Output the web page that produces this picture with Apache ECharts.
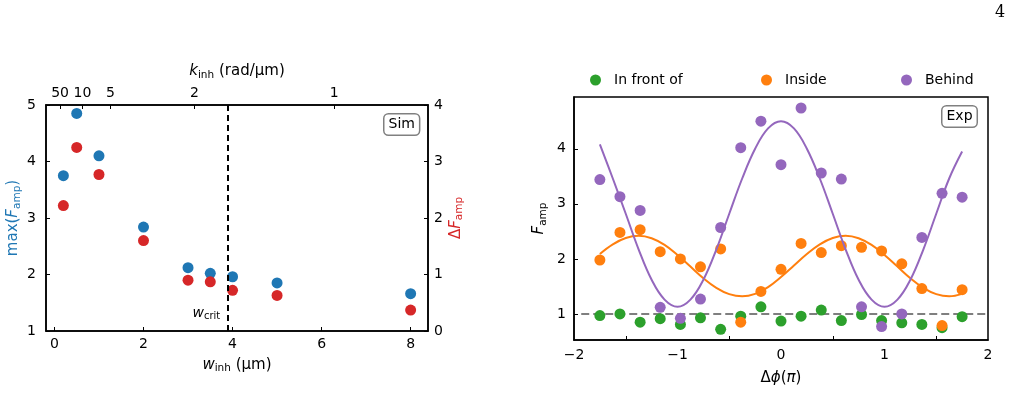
<!DOCTYPE html>
<html>
<head>
<meta charset="utf-8">
<script src="https://cdn.jsdelivr.net/npm/echarts@6/dist/echarts.min.js"></script>
<style>
  html, body { margin: 0; padding: 0; background: #fff; }
  #main { width: 1013px; height: 415px; }
</style>
</head>
<body>
<div id="main"></div>
<script>
// ---- left panel (Sim) ----
const wInh = [0.2, 0.5, 1, 2, 3, 3.5, 4, 5, 8];
const maxFamp = [3.75, 4.85, 4.10, 2.84, 2.12, 2.02, 1.96, 1.85, 1.66];
const deltaFamp = [2.22, 3.25, 2.77, 1.60, 0.90, 0.87, 0.72, 0.63, 0.37];
const wCrit = 3.9;
const kTicks = [50, 10, 5, 2, 1];

// ---- right panel (Exp) ----
const dPhi = [-1.75, -1.556, -1.361, -1.167, -0.972, -0.778, -0.583, -0.389, -0.194, 0,
              0.194, 0.389, 0.583, 0.778, 0.972, 1.167, 1.361, 1.556, 1.75];
const frontVals = [0.97, 1.0, 0.85, 0.915, 0.81, 0.93, 0.72, 0.96, 1.13, 0.87,
                   0.96, 1.07, 0.88, 0.99, 0.88, 0.84, 0.81, 0.75, 0.95];
const insideVals = [1.98, 2.48, 2.53, 2.13, 2.0, 1.855, 2.18, 0.85, 1.41, 1.81,
                    2.28, 2.115, 2.24, 2.21, 2.145, 1.91, 1.46, 0.79, 1.44];
const behindVals = [3.44, 3.13, 2.88, 1.12, 0.92, 1.27, 2.57, 4.02, 4.50, 3.71,
                    4.74, 3.56, 3.45, 1.13, 0.77, 1.0, 2.39, 3.19, 3.12];

// fitted curves
const fitX = [-1.75, -1.625, -1.5, -1.375, -1.25, -1.125, -1, -0.875, -0.75, -0.625,
              -0.5, -0.375, -0.25, -0.125, 0, 0.125, 0.25, 0.375, 0.5, 0.625,
              0.75, 0.875, 1, 1.125, 1.25, 1.375, 1.5, 1.625, 1.75];
const insideFit = [2.09, 2.265, 2.38, 2.42, 2.375, 2.253, 2.07, 1.86, 1.65, 1.475,
                   1.36, 1.32, 1.365, 1.487, 1.67, 1.88, 2.09, 2.265, 2.38, 2.42,
                   2.375, 2.253, 2.07, 1.86, 1.65, 1.475, 1.36, 1.32, 1.365];
const behindFit = [4.08, 3.46, 2.82, 2.17, 1.62, 1.26, 1.13, 1.26, 1.62, 2.17,
                   2.82, 3.46, 4.0, 4.37, 4.5, 4.37, 4.0, 3.46, 2.82, 2.17,
                   1.62, 1.26, 1.13, 1.26, 1.62, 2.17, 2.82, 3.46, 3.95];
const refLine = [[-1.93, 1], [2, 1]];

const BLUE = '#1f77b4', RED = '#d62728', GREEN = '#2ca02c', ORANGE = '#ff7f0e', PURPLE = '#9467bd';
const FONT = 'DejaVu Sans';

function pairs(xs, ys) {
    return xs.map((x, i) => [x, ys[i]]);
}

function minus(v) {
    return v < 0 ? '\u2212' + Math.abs(v) : String(v);
}

const axisLine = {show: true, onZero: false, lineStyle: {color: '#000', width: 1.5}};
const tickStyle = {show: true, inside: true, length: 4, lineStyle: {color: '#000', width: 1}};
const labelStyle = {color: '#000', fontFamily: FONT, fontSize: 14};

// rich text styles for labels with italic letters and subscripts
function richFor(color, size) {
    return {
        r: {fontFamily: FONT, fontSize: size, color: color},
        i: {fontFamily: FONT, fontSize: size, color: color, fontStyle: 'italic'},
        s: {fontFamily: FONT, fontSize: size * 0.7, color: color, padding: [size * 0.55, 0, 0, 0]}
    };
}

function legendAt(name, left) {
    return {
        data: [name], left: left, top: 68, icon: 'circle', itemWidth: 11, itemHeight: 11,
        itemGap: 0, textStyle: {fontFamily: FONT, fontSize: 14, color: '#000', padding: [0, 0, 0, 8]}
    };
}

let chart = echarts.init(document.getElementById('main'), null, {renderer: 'canvas'});

let option = {
    backgroundColor: '#fff',
    animation: false,
    grid: [
        {left: 46, top: 105, width: 382, height: 226, show: true, borderColor: '#000', borderWidth: 1.5, backgroundColor: 'transparent'},
        {left: 574, top: 97, width: 414, height: 243, show: true, borderColor: '#000', borderWidth: 1.5, backgroundColor: 'transparent'}
    ],
    legend: [
        legendAt('In front of', 585),
        legendAt('Inside', 756),
        legendAt('Behind', 896)
    ],
    xAxis: [
        {
            gridIndex: 0, type: 'value', position: 'bottom', min: -0.19, max: 8.39,
            axisLine: axisLine, splitLine: {show: false},
            axisTick: Object.assign({customValues: [0, 2, 4, 6, 8]}, tickStyle),
            axisLabel: Object.assign({customValues: [0, 2, 4, 6, 8], margin: 6}, labelStyle),
            name: '{i|w}{s|inh}{r| (μm)}', nameLocation: 'middle', nameGap: 24,
            nameTextStyle: {rich: richFor('#000', 15)}
        },
        {
            gridIndex: 0, type: 'value', position: 'top', min: -0.19, max: 8.39,
            axisLine: axisLine, splitLine: {show: false},
            axisTick: Object.assign({customValues: kTicks.map(k => 2 * Math.PI / k)}, tickStyle),
            axisLabel: Object.assign({
                customValues: kTicks.map(k => 2 * Math.PI / k), margin: 5,
                formatter: v => String(Math.round(2 * Math.PI / v))
            }, labelStyle),
            name: '{i|k}{s|inh}{r| (rad/μm)}', nameLocation: 'middle', nameGap: 15,
            nameTextStyle: {rich: richFor('#000', 15)}
        },
        {
            gridIndex: 1, type: 'value', position: 'bottom', min: -2, max: 2,
            axisLine: axisLine, splitLine: {show: false},
            axisTick: Object.assign({customValues: [-1.5, -0.5, 0.5, 1.5]}, tickStyle),
            axisLabel: Object.assign({customValues: [-2, -1, 0, 1, 2], margin: 8, formatter: minus}, labelStyle),
            name: '{r|Δ}{i|ϕ}{r|(}{i|π}{r|)}', nameLocation: 'middle', nameGap: 31,
            nameTextStyle: {rich: richFor('#000', 15)}
        }
    ],
    yAxis: [
        {
            gridIndex: 0, type: 'value', position: 'left', min: 1, max: 5, interval: 1,
            axisLine: axisLine, splitLine: {show: false},
            axisTick: tickStyle,
            axisLabel: Object.assign({margin: 10}, labelStyle),
            name: '{r|max(}{i|F}{s|amp}{r|)}', nameLocation: 'middle', nameGap: 22, nameRotate: 90,
            nameTextStyle: {rich: richFor(BLUE, 15)}
        },
        {
            gridIndex: 0, type: 'value', position: 'right', min: 0, max: 4, interval: 1,
            axisLine: axisLine, splitLine: {show: false},
            axisTick: tickStyle,
            axisLabel: Object.assign({margin: 6}, labelStyle),
            name: '{r|Δ}{i|F}{s|amp}', nameLocation: 'middle', nameGap: 18, nameRotate: 90,
            nameTextStyle: {rich: richFor(RED, 15)}
        },
        {
            gridIndex: 1, type: 'value', position: 'left', min: 0.527, max: 4.94,
            axisLine: axisLine, splitLine: {show: false},
            axisTick: Object.assign({customValues: [1, 2, 3, 4]}, tickStyle),
            axisLabel: Object.assign({customValues: [1, 2, 3, 4], margin: 8}, labelStyle),
            name: '{i|F}{s|amp}', nameLocation: 'middle', nameGap: 25, nameRotate: 90,
            nameTextStyle: {rich: richFor('#000', 15)}
        }
    ],
    graphic: [
        {type: 'text', left: 383, top: 113, z: 100, style: {
            text: 'Sim', fontFamily: FONT, fontSize: 14, fill: '#000',
            backgroundColor: '#fff', borderColor: '#808080', borderWidth: 1.5, borderRadius: 4, padding: [3, 4, 3, 4]}},
        {type: 'text', left: 941, top: 105, z: 100, style: {
            text: 'Exp', fontFamily: FONT, fontSize: 14, fill: '#000',
            backgroundColor: '#fff', borderColor: '#808080', borderWidth: 1.5, borderRadius: 4, padding: [3, 4, 3, 4]}},
        {type: 'text', right: 1013 - 220, top: 306, z: 100, style: {
            text: '{i|w}{s|crit}', rich: richFor('#000', 14)}},
        {type: 'text', left: 995, top: 5, style: {
            text: '4', fontFamily: 'DejaVu Serif', fontSize: 16, fill: '#000'}}
    ],
    series: [
        {
            name: 'maxF', type: 'scatter', xAxisIndex: 0, yAxisIndex: 0, symbolSize: 11,
            itemStyle: {color: BLUE, opacity: 1}, data: pairs(wInh, maxFamp),
            markLine: {
                silent: true, symbol: 'none', label: {show: false},
                lineStyle: {color: '#000', type: [6, 4], width: 2},
                data: [{xAxis: wCrit}]
            }
        },
        {
            name: 'dF', type: 'scatter', xAxisIndex: 0, yAxisIndex: 1, symbolSize: 11,
            itemStyle: {color: RED, opacity: 1}, data: pairs(wInh, deltaFamp)
        },
        {
            name: 'ref', type: 'line', xAxisIndex: 2, yAxisIndex: 2, symbol: 'none',
            lineStyle: {color: '#7f7f7f', type: [8, 4], width: 2}, data: refLine, z: 1
        },
        {
            name: 'In front of', type: 'scatter', xAxisIndex: 2, yAxisIndex: 2, symbolSize: 11,
            itemStyle: {color: GREEN, opacity: 1}, data: pairs(dPhi, frontVals)
        },
        {
            name: 'Inside', type: 'scatter', xAxisIndex: 2, yAxisIndex: 2, symbolSize: 11,
            itemStyle: {color: ORANGE, opacity: 1}, data: pairs(dPhi, insideVals)
        },
        {
            name: 'Behind', type: 'scatter', xAxisIndex: 2, yAxisIndex: 2, symbolSize: 11,
            itemStyle: {color: PURPLE, opacity: 1}, data: pairs(dPhi, behindVals)
        },
        {
            name: 'insideFit', type: 'line', xAxisIndex: 2, yAxisIndex: 2, symbol: 'none', smooth: 0.4,
            lineStyle: {color: ORANGE, width: 2}, data: pairs(fitX, insideFit)
        },
        {
            name: 'behindFit', type: 'line', xAxisIndex: 2, yAxisIndex: 2, symbol: 'none', smooth: 0.4,
            lineStyle: {color: PURPLE, width: 2}, data: pairs(fitX, behindFit)
        }
    ]
};

chart.setOption(option);
</script>
</body>
</html>
